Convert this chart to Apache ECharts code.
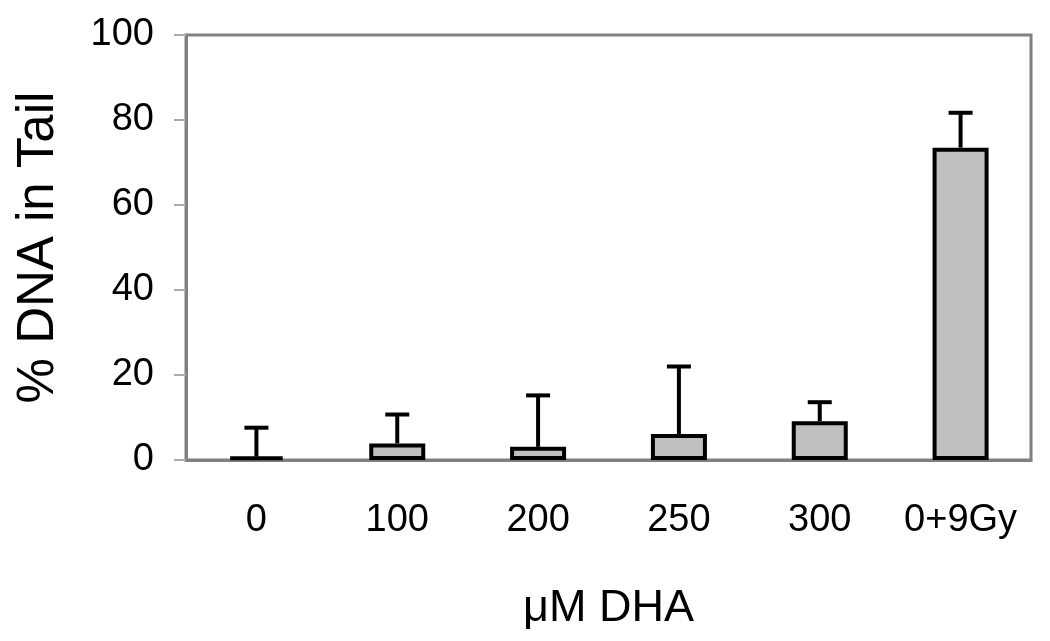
<!DOCTYPE html>
<html>
<head>
<meta charset="utf-8">
<script src="https://cdn.jsdelivr.net/npm/echarts@6/dist/echarts.min.js"></script>
<style>
    html, body { margin: 0; padding: 0; background: #fff; }
    #chart { width: 1050px; height: 641px; }
</style>
</head>
<body>
<div id="chart"></div>
<script>
// values
var categories = ['0', '100', '200', '250', '300', '0+9Gy'];
var means = [0.8, 3.9, 3.1, 6.1, 9.1, 73.5];
var errors = [6.8, 6.8, 12.1, 15.9, 4.5, 8.2];
var yTicks = [0, 20, 40, 60, 80, 100];

var errData = [];
for (var i = 0; i < means.length; i++) {
    errData.push([i, means[i], means[i] + errors[i]]);
}

var chart = echarts.init(document.getElementById('chart'));
chart.setOption({
    animation: false,
    textStyle: {fontFamily: 'Liberation Sans, Arial, sans-serif'},
    grid: {
        left: 186,
        right: 19,
        top: 35,
        bottom: 181,
        show: true,
        borderColor: '#808080',
        borderWidth: 3,
        outerBoundsMode: 'none'
    },
    xAxis: {
        type: 'category',
        data: categories,
        name: '\u03bcM DHA',
        nameLocation: 'middle',
        nameGap: 126,
        nameTextStyle: {fontSize: 45, color: '#000'},
        axisLine: {lineStyle: {color: '#808080', width: 3}},
        axisTick: {length: 12, lineStyle: {color: '#aaa', width: 2}},
        axisLabel: {fontSize: 38, color: '#000', margin: 42, interval: 0, hideOverlap: false}
    },
    yAxis: {
        type: 'value',
        min: yTicks[0],
        max: yTicks[yTicks.length - 1],
        interval: 20,
        name: '% DNA in Tail',
        nameLocation: 'middle',
        nameGap: 122,
        nameTextStyle: {fontSize: 51, color: '#000'},
        axisLine: {show: true, lineStyle: {color: '#808080', width: 3}},
        axisTick: {show: true, length: 12, lineStyle: {color: '#aaa', width: 2}},
        axisLabel: {fontSize: 38, color: '#000', margin: 32},
        splitLine: {show: false}
    },
    series: [
        {
            type: 'bar',
            data: means,
            barWidth: 56,
            itemStyle: {color: '#c0c0c0', borderColor: '#000', borderWidth: 4}
        },
        {
            type: 'custom',
            data: errData,
            z: 3,
            renderItem: function (params, api) {
                var base = api.coord([api.value(0), api.value(1)]);
                var top = api.coord([api.value(0), api.value(2)]);
                var st = {stroke: '#000', lineWidth: 4};
                return {
                    type: 'group',
                    children: [
                        {type: 'line', shape: {x1: base[0], y1: base[1], x2: top[0], y2: top[1]}, style: st},
                        {type: 'line', shape: {x1: top[0] - 12, y1: top[1], x2: top[0] + 12, y2: top[1]}, style: st}
                    ]
                };
            }
        }
    ]
});
</script>
</body>
</html>
